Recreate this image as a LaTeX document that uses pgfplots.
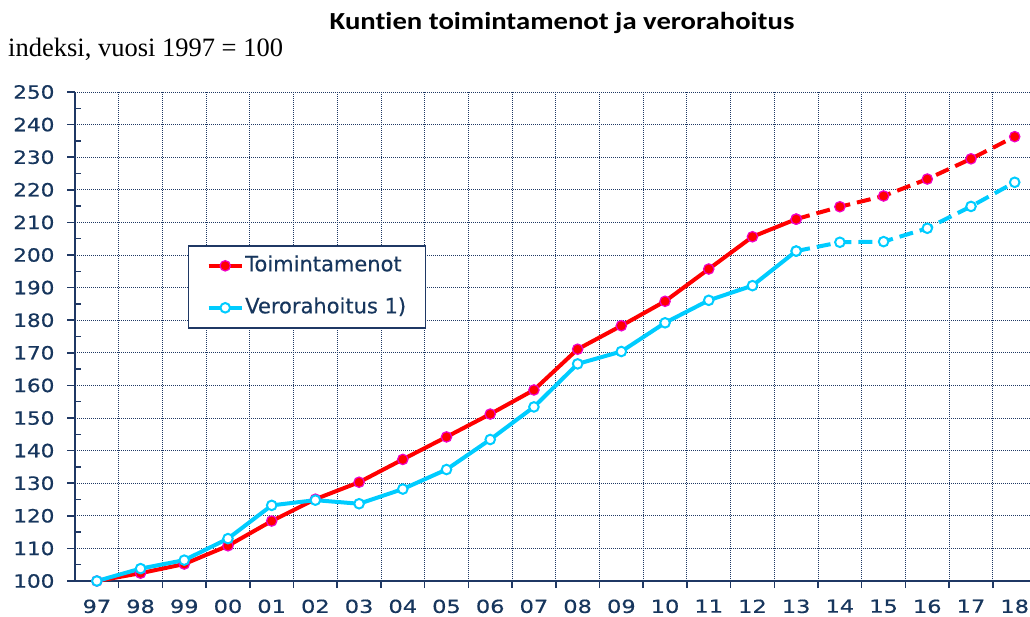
\documentclass[border=0pt]{standalone}
\usepackage{pgfplots}
\pgfplotsset{compat=1.18}
\usepackage{fontspec}
\newfontfamily\tickfont[FakeStretch=1.18,FakeBold=0.5]{DejaVu Sans}
\newfontfamily\xtickfont[FakeStretch=1.25,FakeBold=0.5]{DejaVu Sans}
\newfontfamily\legfont[FakeBold=0.3]{DejaVu Sans}
\newfontfamily\titlefont[FakeStretch=1.17,RawFeature={-liga}]{Carlito}
\newfontfamily\subfont{Liberation Serif}
\definecolor{axisblue}{RGB}{31,56,100}
\definecolor{txtblue}{RGB}{23,54,93}
\definecolor{lred}{RGB}{255,0,0}
\definecolor{lcyan}{RGB}{0,204,255}
\definecolor{mag}{RGB}{240,0,200}
\begin{document}
\begin{tikzpicture}[x=1pt,y=1pt]
\useasboundingbox (0,0) rectangle (1030,616);
\node[anchor=base,inner sep=0] at (562,586.7) {\fontsize{24.5}{28}\titlefont\bfseries Kuntien toimintamenot ja verorahoitus};
\node[anchor=base west,inner sep=0] at (8,559) {\fontsize{26.5}{30}\subfont indeksi, vuosi 1997 = 100};
\begin{axis}[
  at={(75pt,35pt)}, anchor=south west,
  scale only axis, width=955pt, height=489pt,
  xmin=-0.5, xmax=21.35, ymin=100, ymax=250,
  axis x line*=bottom, axis y line*=left,
  axis line style={-, draw=axisblue, line width=1.5pt},
  xtick={0,...,21},
  xticklabels={97,98,99,00,01,02,03,04,05,06,07,08,09,10,11,12,13,14,15,16,17,18},
  minor xtick={0.5,1.5,...,20.5},
  xminorgrids=true, xmajorgrids=false,
  major x tick style={draw=none},
  ytick={100,110,...,250}, minor y tick num=1,
  ymajorgrids=true,
  tick align=outside,
  major tick length=8pt, minor tick length=7pt,
  tick style={draw=axisblue, line width=1.5pt},
  minor y tick style={xshift=6pt, draw=axisblue, line width=1.5pt},
  grid style={draw=axisblue, line width=0.9pt, dash pattern=on 1pt off 1pt},
  minor grid style={draw=axisblue, line width=0.9pt, dash pattern=on 1pt off 1pt},
  /pgf/number format/assume math mode=true,
  yticklabel style={font=\fontsize{18.3}{20}\tickfont, text=txtblue, xshift=-9pt},
  xticklabel style={font=\fontsize{18}{20}\xtickfont, text=txtblue, yshift=-7pt},
  legend style={at={(0.1183,0.687)}, anchor=north west, draw=axisblue, line width=1.5pt,
    fill=white, inner xsep=18pt, inner ysep=6.5pt, row sep=15pt,
    font=\fontsize{21}{24}\legfont, text=txtblue,
    nodes={inner xsep=1.5pt, inner ysep=3pt, text height=16pt, text depth=5pt}},
  legend cell align=left,
  legend image code/.code={\draw[mark repeat=2,mark phase=2,#1] plot coordinates {(0pt,0pt) (16.5pt,0pt) (33pt,0pt)};},
]
\addplot[lred, line width=4pt, mark=*, mark size=5.2pt, mark options={fill=lred, draw=mag, line width=1.2pt, solid}]
 coordinates {(0,100) (1,102.4) (2,105.2) (3,110.8) (4,118.4) (5,125.1) (6,130.3) (7,137.3) (8,144.2) (9,151.2) (10,158.6) (11,171.1) (12,178.3) (13,185.8) (14,195.7) (15,205.6) (16,211.0)};
\addlegendentry{Toimintamenot}
\addplot[lcyan, line width=4pt, mark=*, mark size=4.8pt, mark options={fill=white, draw=lcyan, line width=2pt, solid}]
 coordinates {(0,100) (1,103.8) (2,106.4) (3,113.0) (4,123.2) (5,124.8) (6,123.7) (7,128.2) (8,134.2) (9,143.4) (10,153.4) (11,166.6) (12,170.4) (13,179.2) (14,186.1) (15,190.6) (16,201.2)};
\addlegendentry{Verorahoitus 1)}
\addplot[forget plot, lred, line width=4pt, dash pattern=on 14pt off 7pt, mark=*, mark size=5.2pt, mark options={fill=lred, draw=mag, line width=1.2pt, solid}]
 coordinates {(16,211.0) (17,214.8) (18,218.1) (19,223.3) (20,229.5) (21,236.3)};
\addplot[forget plot, lcyan, line width=4pt, dash pattern=on 14pt off 7pt, mark=*, mark size=4.8pt, mark options={fill=white, draw=lcyan, line width=2pt, solid}]
 coordinates {(16,201.2) (17,203.9) (18,204.1) (19,208.2) (20,214.9) (21,222.3)};
\end{axis}
\end{tikzpicture}
\end{document}
